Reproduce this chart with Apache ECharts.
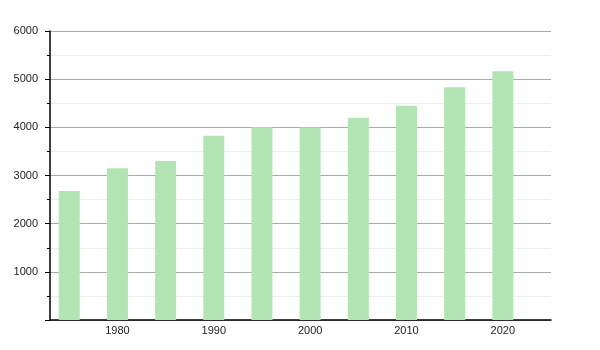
<!DOCTYPE html>
<html><head><meta charset="utf-8">
<script src="https://cdn.jsdelivr.net/npm/echarts@6/dist/echarts.min.js"></script>
<style>html,body{margin:0;padding:0;background:#fff}#c{width:600px;height:350px}</style>
</head><body><div id="c"></div>
<script>
var years = [1975, 1980, 1985, 1990, 1995, 2000, 2005, 2010, 2015, 2020];
var population = [2676, 3153, 3299, 3824, 4004, 3998, 4197, 4446, 4834, 5166];
var xTicks = [1980, 1990, 2000, 2010, 2020];
var yTicks = [1000, 2000, 3000, 4000, 5000, 6000];

var chart = echarts.init(document.getElementById('c'));
chart.setOption({
  animation: false,
  grid: {left: 50, right: 49, top: 31, bottom: 30, containLabel: false},
  xAxis: {
    type: 'value', min: 1973, max: 2025, interval: 1,
    axisLine: {show: true, lineStyle: {color: '#000', width: 1.5}},
    axisTick: {show: false},
    splitLine: {show: false},
    axisLabel: {color: '#222', fontSize: 11,
      fontFamily: 'Liberation Sans, Arial, sans-serif', margin: 5,
      formatter: function (v) { return xTicks.indexOf(v) >= 0 ? String(v) : ''; }}
  },
  yAxis: {
    type: 'value', min: 0, max: 6000, interval: 1000,
    axisLine: {show: true, lineStyle: {color: '#000', width: 1.5}},
    axisTick: {show: true, length: 5, lineStyle: {color: '#000'}},
    minorTick: {show: true, splitNumber: 2, length: 3, lineStyle: {color: '#000'}},
    splitLine: {show: true, lineStyle: {color: '#aaa'}},
    minorSplitLine: {show: true, lineStyle: {color: '#eee'}},
    axisLabel: {color: '#222', fontSize: 11, fontFamily: 'Liberation Sans, Arial, sans-serif', margin: 12,
      formatter: function (v) { return yTicks.indexOf(v) >= 0 ? String(v) : ''; }}
  },
  series: [{
    type: 'bar', barWidth: 21,
    itemStyle: {color: '#b3e5b4'},
    data: years.map(function (y, i) { return [y, population[i]]; })
  }]
});
</script></body></html>
